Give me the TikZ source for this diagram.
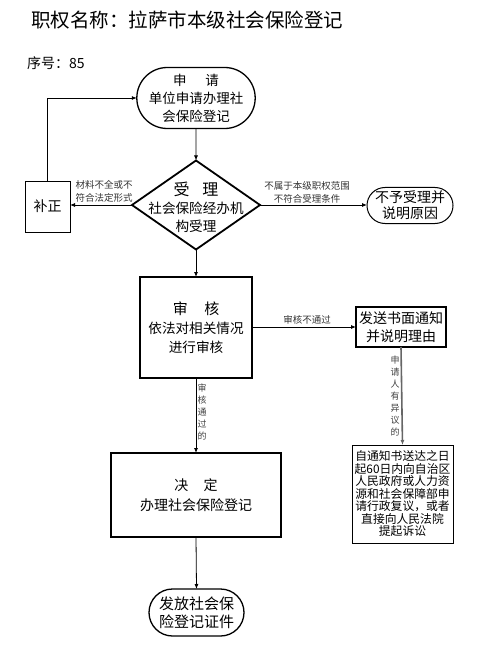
\documentclass[tikz,border=0pt]{standalone}
\usepackage{fontspec}
\setmainfont{Noto Sans CJK SC}
\usetikzlibrary{shapes.geometric,shapes.misc,arrows.meta}
\begin{document}
\begin{tikzpicture}[x=1pt,y=-1pt,
  every node/.style={inner sep=0pt, outer sep=0pt},
  arr/.style={-{Latex[length=5pt,width=4pt]}, line width=0.8pt},
  pill/.style={draw, rounded rectangle, align=center, line width=1.3pt},
  box/.style={draw, rectangle, align=center},
  lbl/.style={font=\fontsize{9.5}{13}\selectfont, align=center, text=black!80},
  vlbl/.style={font=\fontsize{9}{12}\selectfont, align=center, text=black!75}]
\useasboundingbox (0,0) rectangle (479,652);

\node[anchor=west, font=\fontsize{19.5}{22}\selectfont] (title) at (31,20) {职权名称：拉萨市本级社会保险登记};
\node[anchor=west, font=\fontsize{14}{16}\selectfont] (seq) at (27,63) {序号：85};

\node[pill, minimum width=102pt, minimum height=61pt, font=\fontsize{13.5}{18}\selectfont] (start) at (196,98) {申\hspace{1.4em}请\\单位申请办理社\\会保险登记};

\node[draw, diamond, minimum width=128pt, minimum height=89pt, line width=1.8pt] (acc) at (196,205) {};
\node[align=center, font=\fontsize{13.6}{18}\selectfont] (acctext) at (196,207) {{\fontsize{16}{18}\selectfont 受\hspace{0.8em}理}\\社会保险经办机\\构受理};

\node[box, minimum width=45pt, minimum height=51pt, line width=0.9pt, font=\fontsize{14}{16}\selectfont] (fix) at (47.5,206.5) {补正};

\node[pill, minimum width=86pt, minimum height=36pt, line width=1pt, font=\fontsize{14}{16}\selectfont] (refuse) at (410,205.5) {不予受理并\\说明原因};

\node[box, minimum width=112pt, minimum height=101pt, line width=2.6pt, font=\fontsize{13.6}{19}\selectfont] (review) at (196,327.5) {{\fontsize{15}{19}\selectfont 审\hspace{1.1em}核}\\依法对相关情况\\进行审核};

\node[box, minimum width=90pt, minimum height=40pt, line width=1.6pt, font=\fontsize{14}{18}\selectfont] (notify) at (401,327) {发送书面通知\\并说明理由};

\node[box, minimum width=101pt, minimum height=98pt, line width=0.8pt, font=\fontsize{11.8}{12.5}\selectfont] (appeal) at (402.5,494) {自通知书送达之日\\起60日内向自治区\\人民政府或人力资\\源和社会保障部申\\请行政复议，或者\\直接向人民法院\\提起诉讼};

\node[box, minimum width=170pt, minimum height=84pt, line width=2.6pt, font=\fontsize{14}{20}\selectfont] (decide) at (196,495) {决\hspace{1.1em}定\\办理社会保险登记};

\node[pill, minimum width=95pt, minimum height=47pt, font=\fontsize{15}{18}\selectfont] (final) at (196.5,612.5) {发放社会保\\险登记证件};

% connectors
\draw[arr] (start) -- (acc);
\draw[arr] (acc.west) -- (fix.east |- acc.west);
\draw[arr] (fix.north) |- (start.west);
\draw[arr] (acc.east) -- (refuse.west |- acc.east);
\draw[arr] (acc.south) -- (review.north);
\draw[arr] (review.east |- notify.west) -- (notify.west);
\draw[arr, line width=1.6pt, draw=black!60] (notify.south) -- (appeal.north);
\draw[arr] (review.south) -- (decide.north);
\draw[arr] (decide.south) -- (final.north);

% labels
\node[lbl] (l1) at (104,191) {材料不全或不\\符合法定形式};
\node[lbl] (l2) at (307,192) {不属于本级职权范围\\不符合受理条件};
\node[lbl] (l3) at (307,320) {审核不通过};
\node[vlbl] (l4) at (395,396) {申\\请\\人\\有\\异\\议\\的};
\node[vlbl] (l5) at (202,412) {审\\核\\通\\过\\的};
\end{tikzpicture}
\end{document}
